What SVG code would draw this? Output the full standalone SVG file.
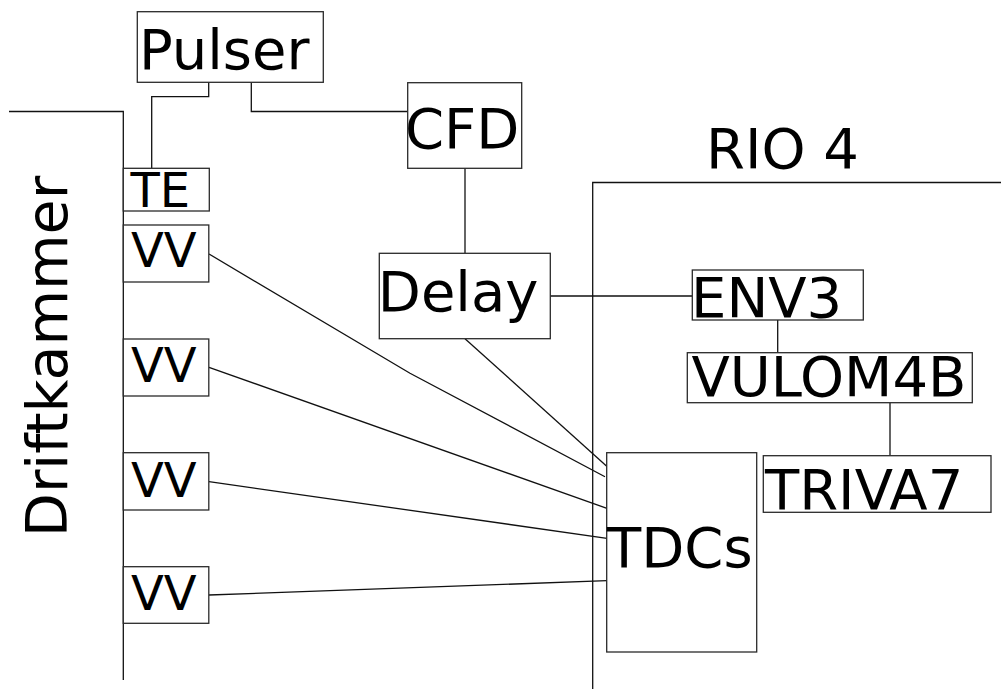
<svg xmlns="http://www.w3.org/2000/svg" width="1002" height="690" viewBox="0 0 1002 690">
<style>
.box{fill:#fff;stroke:#2a2a2a;stroke-width:1.3}
.ln{fill:none;stroke:#111;stroke-width:1.3}
text{font-family:"DejaVu Sans","Liberation Sans",sans-serif;fill:#000}
.big{font-size:56px}
.sm{font-size:48px}
</style>
<rect width="1002" height="690" fill="#fff"/>
<g id="boundaries">
<path class="ln" d="M9,111.5 H123.3 V680"/>
<path class="ln" d="M592.7,689 V182.5 H1001"/>
<text transform="translate(66.7,537) rotate(-90)" style="font-size:57px">Driftkammer</text>
<text class="big" x="706" y="168.3">RIO 4</text>
</g>
<g id="connectors">
<path class="ln" d="M208.7,82.3 V96.7 H151.7 V168.3"/>
<path class="ln" d="M251.3,82.3 V111.5 H407.7"/>
<path class="ln" d="M465,168.3 V253.3"/>
<path class="ln" d="M550.3,296 H692.3"/>
<path class="ln" d="M777.7,320 V352.7"/>
<path class="ln" d="M890,402.7 V455.7"/>
<path class="ln" d="M465,338.7 L607,466.5"/>
<path class="ln" d="M209,254 L410,373.3 L605,476.7"/>
<path class="ln" d="M209,367.3 L607,508.3"/>
<path class="ln" d="M209,481.7 L607,538.3"/>
<path class="ln" d="M209,595 L607,580.7"/>
</g>
<g id="pulser"><rect class="box" x="137.3" y="11.7" width="186" height="70.6"/><text class="big" x="139" y="69">Pulser</text></g>
<g id="cfd"><rect class="box" x="407.7" y="82.7" width="114" height="85.6"/><text class="big" x="405" y="148.3">CFD</text></g>
<g id="te"><rect class="box" x="123.3" y="168.3" width="86" height="42.7"/><text class="sm" x="130.5" y="206.7">TE</text></g>
<g id="vv1"><rect class="box" x="123.3" y="225" width="85.5" height="57"/><text class="sm" x="131" y="267">VV</text></g>
<g id="vv2"><rect class="box" x="123.3" y="339" width="85.5" height="57"/><text class="sm" x="131" y="381.7">VV</text></g>
<g id="vv3"><rect class="box" x="123.3" y="452.7" width="85.5" height="57.3"/><text class="sm" x="131" y="496.7">VV</text></g>
<g id="vv4"><rect class="box" x="123.3" y="566.7" width="85.5" height="56.6"/><text class="sm" x="131" y="610">VV</text></g>
<g id="delay"><rect class="box" x="379.3" y="253.3" width="171" height="85.4"/><text class="big" x="377.8" y="310.7">Delay</text></g>
<g id="env3"><rect class="box" x="692.3" y="270" width="171" height="50"/><text class="big" x="691" y="317.3">ENV3</text></g>
<g id="vulom4b"><rect class="box" x="687.3" y="352.7" width="285" height="50"/><text class="big" x="691.5" y="396">VULOM4B</text></g>
<g id="triva7"><rect class="box" x="763.3" y="455.7" width="227.7" height="56.6"/><text class="big" x="765" y="509.3">TRIVA7</text></g>
<g id="tdcs"><rect class="box" x="606.7" y="452.7" width="150" height="199.3"/><text class="big" x="607" y="566.7">TDCs</text></g>
</svg>
